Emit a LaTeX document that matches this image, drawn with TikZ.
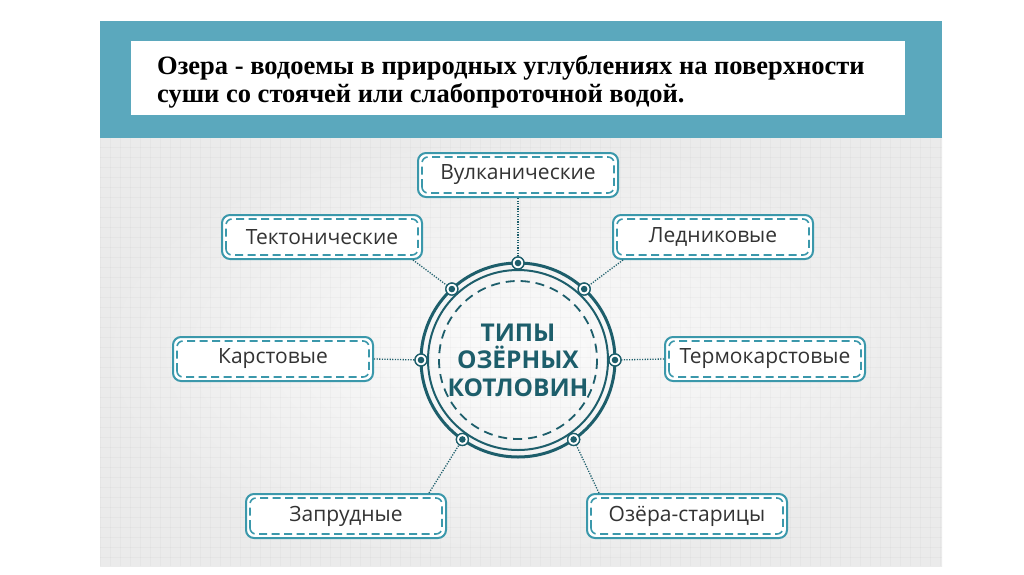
\documentclass[tikz,border=0pt]{standalone}
\usepackage{fontspec}
\setmainfont{Open Sans}
\newfontfamily\titlefont{Liberation Serif}
\usetikzlibrary{calc}
\definecolor{bandc}{HTML}{5BA8BD}
\definecolor{boxline}{HTML}{3B98AB}
\definecolor{darkc}{HTML}{1D5E6B}
\definecolor{txtc}{HTML}{333333}
\definecolor{bgouter}{HTML}{EBEBEB}
\definecolor{bginner}{HTML}{FBFBFB}
\begin{document}
\begin{tikzpicture}[x=1pt,y=-1pt,
  typebox/.style={draw=boxline, line width=2pt, rounded corners=8pt, fill=white,
    minimum width=200pt, minimum height=44pt, text=txtc, inner sep=0pt,
    font=\fontsize{21}{25}\selectfont},
  innerdash/.style={draw=boxline, line width=1.6pt, rounded corners=6pt, dash pattern=on 8pt off 4.5pt},
  conn/.style={draw=darkc, line width=1.3pt, dash pattern=on 1.2pt off 1.4pt},
  marker/.style={circle, draw=darkc, line width=1.3pt, fill=white, minimum size=12pt, inner sep=0pt,
    path picture={\fill[darkc] (path picture bounding box.center) circle (3.3pt);}},
  ring/.style={draw=darkc},
]
\useasboundingbox (0,0) rectangle (1024,574);
\fill[white] (0,0) rectangle (1024,574);
% background panel
\shade[inner color=bginner, outer color=bgouter] (100,137) rectangle (942,566);
\begin{scope}
\clip (100,137) rectangle (942,566);
\foreach \gx in {100,110,...,940} \draw[black, opacity=0.022, line width=0.6pt] (\gx,137) -- (\gx,566);
\foreach \gy in {137,147,...,566} \draw[black, opacity=0.022, line width=0.6pt] (100,\gy) -- (942,\gy);
\end{scope}
% top band
\fill[bandc] (100,21) rectangle (942,138);
\fill[white] (131,41) rectangle (905,115);
\node[anchor=base west, inner sep=0pt, font=\titlefont\bfseries\fontsize{26.5}{30}\selectfont] (title1) at (157,74) {Озера - водоемы в природных углублениях на поверхности};
\node[anchor=base west, inner sep=0pt, font=\titlefont\bfseries\fontsize{26.5}{30}\selectfont] (title2) at (157,102) {суши со стоячей или слабопроточной водой.};
% centre
\coordinate (c) at (518,360);
% boxes
\node[typebox] (vulk) at (518,175) {Вулканические};
\node[typebox] (tekt) at (322,237) {Тектонические};
\node[typebox] (ledn) at (713,237) {Ледниковые};
\node[typebox] (karst) at (273,359) {Карстовые};
\node[typebox] (term) at (765,359) {Термокарстовые};
\node[typebox] (zapr) at (346,516) {Запрудные};
\node[typebox] (star) at (687,516) {Озёра-старицы};
\foreach \b in {vulk,tekt,ledn,karst,term,zapr,star}
  \draw[innerdash] ($(\b.south west)+(5,-5)$) rectangle ($(\b.north east)+(-5,5)$);
% markers
\foreach \nm/\ang in {mvulk/90, mtekt/133, mledn/47, mkarst/180, mterm/0, mzapr/235, mstar/305}
  \node[marker] (\nm) at ($(c)+({97*cos(\ang)},{-97*sin(\ang)})$) {};
% connector start points
\coordinate (tektA) at ($(tekt.south east)+(-10,0)$);
\coordinate (lednA) at ($(ledn.south west)+(11,0)$);
\coordinate (zaprA) at ($(zapr.north east)+(-18,0)$);
\coordinate (starA) at ($(star.north west)+(13,0)$);
\draw[conn] (vulk.south) -- (mvulk);
\draw[conn] (tektA) -- (mtekt);
\draw[conn] (lednA) -- (mledn);
\draw[conn] (karst.east) -- (mkarst);
\draw[conn] (term.west) -- (mterm);
\draw[conn] (zaprA) -- (mzapr);
\draw[conn] (starA) -- (mstar);
% circles
\draw[ring, line width=3pt] (c) circle (97);
\draw[ring, line width=2pt] (c) circle (90);
\draw[ring, line width=1.8pt, dash pattern=on 9pt off 6pt] (c) circle (79);
\foreach \nm in {mvulk,mtekt,mledn,mkarst,mterm,mzapr,mstar}
  \node[marker] at (\nm) {};
\node[text=darkc, align=center, font=\bfseries\fontsize{24.5}{27.5}\selectfont, inner sep=0pt] (center) at (518,360) {ТИПЫ\\ОЗЁРНЫХ\\КОТЛОВИН};
\end{tikzpicture}
\end{document}
